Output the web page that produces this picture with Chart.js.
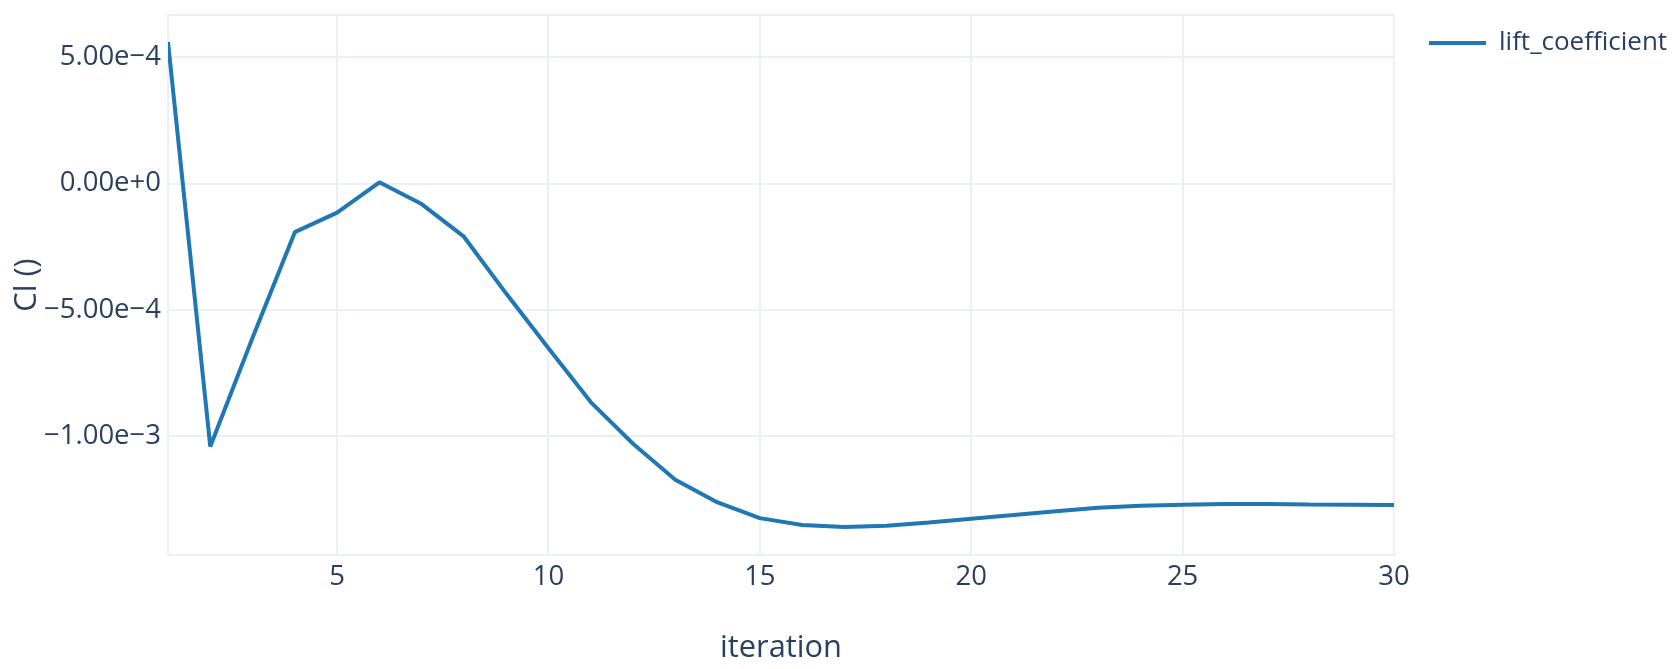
<!DOCTYPE html>
<html>
<head>
<meta charset="utf-8">
<title>lift_coefficient</title>
<script src="https://cdn.jsdelivr.net/npm/chart.js@4.4.1/dist/chart.umd.min.js"></script>
<style>
  html, body { margin: 0; padding: 0; background: #fff; }
  canvas { display: block; }
</style>
</head>
<body>
<canvas id="cl" width="1676" height="669"></canvas>
<script>
// Lift coefficient per solver iteration.
const iterations = [
  1, 2, 3, 4, 5, 6, 7, 8, 9, 10,
  11, 12, 13, 14, 15, 16, 17, 18, 19, 20,
  21, 22, 23, 24, 25, 26, 27, 28, 29, 30,
];
const liftCoefficient = [
  5.60e-4, -1.040e-3, -6.10e-4, -1.92e-4, -1.15e-4, 0.05e-4, -0.81e-4, -2.10e-4, -4.35e-4, -6.51e-4,
  -8.64e-4, -1.029e-3, -1.171e-3, -1.261e-3, -1.323e-3, -1.350e-3, -1.358e-3, -1.353e-3, -1.340e-3, -1.325e-3,
  -1.311e-3, -1.296e-3, -1.282e-3, -1.274e-3, -1.270e-3, -1.267e-3, -1.267e-3, -1.269e-3, -1.270e-3, -1.271e-3,
];

// Axis ranges and tick values as shown on the plot.
const xRange = [1, 30];
const yRange = [-1.4688e-3, 6.668e-4];
const xTickValues = [5, 10, 15, 20, 25, 30];
const yTickValues = [-1e-3, -5e-4, 0, 5e-4];

const seriesLabel = 'lift_coefficient';
const xTitle = 'iteration';
const yTitle = 'Cl ()';

// Plotly-ish look
const INK = '#2a3f5f';
const GRID = '#ebf0f8';
const LINE = '#1f77b4';

Chart.defaults.font.family = '"Open Sans", verdana, arial, sans-serif';
Chart.defaults.color = INK;

// "5.00e-4" style labels with a real minus sign
function sciLabel(v) {
  return Number(v).toExponential(2).replace(/-/g, '\u2212');
}

function draw() {
  new Chart(document.getElementById('cl'), {
    type: 'line',
    data: {
      datasets: [{
        label: seriesLabel,
        data: iterations.map((x, i) => ({ x, y: liftCoefficient[i] })),
        borderColor: LINE,
        backgroundColor: LINE,
        borderWidth: 4,
        borderJoinStyle: 'bevel',
        pointRadius: 0,
        pointHoverRadius: 0,
        tension: 0,
        fill: false,
      }],
    },
    options: {
      responsive: false,
      animation: false,
      devicePixelRatio: 1,
      layout: { padding: { top: 15, left: 0, right: 0, bottom: 0 } },
      plugins: {
        tooltip: { enabled: false },
        legend: {
          position: 'right',
          align: 'start',
          maxWidth: 262,
          labels: {
            usePointStyle: true,
            pointStyle: 'line',
            pointStyleWidth: 57,
            padding: 15,
            color: INK,
            font: { size: 26 },
          },
        },
      },
      scales: {
        x: {
          type: 'linear',
          position: 'bottom',
          min: xRange[0],
          max: xRange[1],
          afterBuildTicks: (scale) => { scale.ticks = xTickValues.map((value) => ({ value })); },
          afterFit: (scale) => {
            scale.height = 114;
            scale.paddingLeft = 0;
            scale.paddingRight = 0;
          },
          grid: { color: GRID, lineWidth: 2, drawTicks: false },
          border: { display: true, color: GRID, width: 2 },
          ticks: { padding: 5.5, color: INK, font: { size: 27.5 }, maxRotation: 0 },
          title: {
            display: true,
            text: xTitle,
            color: INK,
            font: { size: 30.8 },
            padding: { top: 0, bottom: 2.5 },
          },
        },
        y: {
          type: 'linear',
          position: 'left',
          min: yRange[0],
          max: yRange[1],
          afterBuildTicks: (scale) => { scale.ticks = yTickValues.map((value) => ({ value })); },
          afterFit: (scale) => {
            scale.width = 168;
            scale.paddingTop = 0;
            scale.paddingBottom = 0;
          },
          grid: { color: GRID, lineWidth: 2, drawTicks: false },
          border: { display: true, color: GRID, width: 2 },
          ticks: { padding: 7, color: INK, font: { size: 27.5 }, callback: sciLabel },
          title: {
            display: true,
            text: yTitle,
            color: INK,
            font: { size: 30.8 },
            padding: { top: 9, bottom: 0 },
          },
        },
        // Empty axes: only there to close the frame on top/right and to
        // leave the gap between the plot and the legend.
        xTop: {
          type: 'linear',
          position: 'top',
          afterFit: (scale) => { scale.height = 0; },
          grid: { display: false },
          ticks: { display: false },
          border: { display: true, color: GRID, width: 2 },
        },
        yRight: {
          type: 'linear',
          position: 'right',
          afterFit: (scale) => { scale.width = 20; },
          grid: { display: false },
          ticks: { display: false },
          border: { display: true, color: GRID, width: 2 },
        },
      },
    },
  });
}

if (document.fonts && document.fonts.load) {
  Promise.all([
    document.fonts.load('26px "Open Sans"'),
    document.fonts.load('31px "Open Sans"'),
  ]).then(draw, draw);
} else {
  draw();
}
</script>
</body>
</html>
